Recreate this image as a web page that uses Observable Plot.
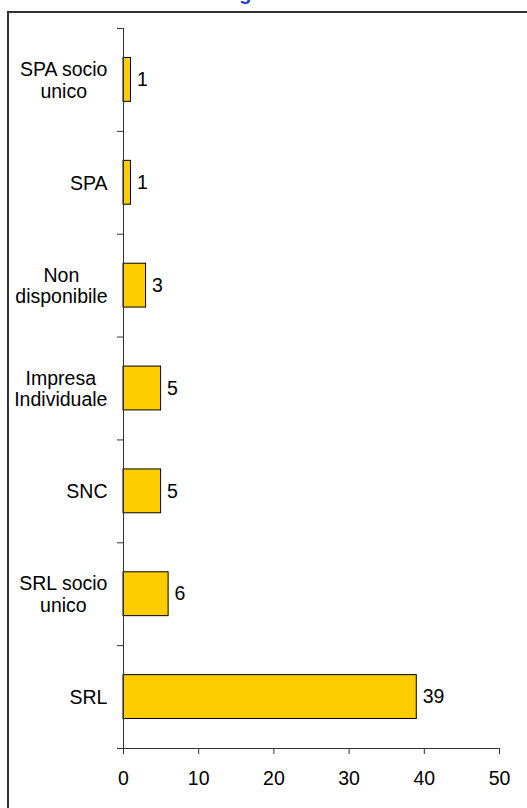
<!DOCTYPE html>
<html>
<head>
<meta charset="utf-8">
<script src="https://cdn.jsdelivr.net/npm/d3@7"></script>
<script src="https://cdn.jsdelivr.net/npm/@observablehq/plot@0.6"></script>
<style>
  html, body { margin: 0; padding: 0; background: #fff; overflow: hidden; }
  #page { position: relative; width: 527px; height: 808px; overflow: hidden;
          font-family: "Liberation Sans", Arial, sans-serif; }
  #title { position: absolute; top: -17px; left: -16px; width: 527px; text-align: center;
           font-size: 20px; line-height: 20px; font-weight: bold; color: #1a3fcc; white-space: nowrap; }
  #frame { position: absolute; left: 7px; top: 11px; width: 700px; height: 900px;
           border-top: 2px solid #333; border-left: 2px solid #333; }
  #chart { position: absolute; left: 0; top: 0; }
</style>
</head>
<body>
<div id="page">
  <div id="title">Forma giuridica</div>
  <div id="frame"></div>
  <div id="chart"></div>
</div>
<script>
// Legal form of the companies, listed top to bottom
const categories = ["SPA socio unico", "SPA", "Non disponibile", "Impresa Individuale", "SNC", "SRL socio unico", "SRL"];
const axisLabels = ["SPA socio\nunico", "SPA", "Non\ndisponibile", "Impresa\nIndividuale", "SNC", "SRL socio\nunico", "SRL"];
const counts = [1, 1, 3, 5, 5, 6, 39];
const xTicks = [0, 10, 20, 30, 40, 50];

const rows = categories.map((c, i) => ({ category: c, label: axisLabels[i], count: counts[i], slot: i }));
const n = categories.length;
const font = '"Liberation Sans", Arial, sans-serif';
const fs = 19.5;

const chart = Plot.plot({
  width: 527,
  height: 808,
  marginLeft: 123,
  marginRight: 28,
  marginTop: 28,
  marginBottom: 60,
  style: { fontFamily: font, fontSize: fs + "px", color: "#000", background: "transparent" },
  x: { domain: [0, 50], label: null },
  y: { domain: [0, n], reverse: true, label: null },
  marks: [
    Plot.rectX(rows, {
      x1: () => 0, x2: "count",
      y1: "slot", y2: d => d.slot + 1,
      insetTop: 29.5, insetBottom: 29.5,
      fill: "#FFCC00", stroke: "#000", strokeWidth: 1
    }),
    Plot.text(rows, {
      x: "count", y: d => d.slot + 0.5,
      text: d => String(d.count),
      textAnchor: "start", dx: 6, fontSize: fs, fill: "#000"
    }),
    Plot.ruleX([0], { stroke: "#333" }),
    Plot.ruleY([n], { x1: 0, x2: 50, stroke: "#333" }),
    Plot.axisX({ ticks: xTicks, tickSize: 6, tickPadding: 17, fontSize: fs, stroke: "#333", label: null }),
    // short ticks on the band boundaries
    Plot.axisY({ ticks: d3.range(n + 1), tickSize: 6, tickFormat: () => "", stroke: "#333", label: null }),
    // category names centred in each band
    Plot.axisY({
      ticks: d3.range(n).map(i => i + 0.5), tickSize: 0, tickPadding: 16,
      tickFormat: t => axisLabels[Math.floor(t)], lineHeight: 1.1, fontSize: fs, label: null
    })
  ]
});

document.getElementById("chart").append(chart);

// centre the lines of each multi-line category name within its block
chart.querySelectorAll('g[aria-label="y-axis tick label"] text').forEach(t => {
  if (!t.textContent) return;
  const w = t.getBBox().width;
  t.setAttribute("text-anchor", "middle");
  t.setAttribute("x", -w / 2);
  t.querySelectorAll("tspan").forEach(s => s.setAttribute("x", -w / 2));
});
</script>
</body>
</html>
